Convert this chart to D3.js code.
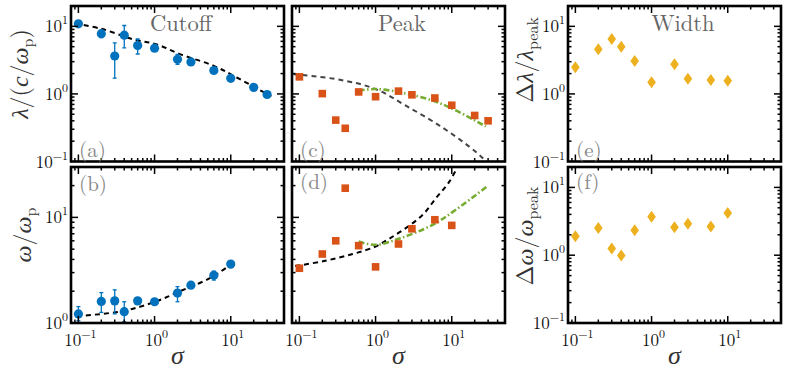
<!DOCTYPE html>
<html>
<head>
<meta charset="utf-8">
<script src="https://cdn.jsdelivr.net/npm/d3@7"></script>
</head>
<body style="margin:0;background:#fff">
<div id="chart"></div>
<script>
// sigma values used by the simulations
const sigmaAll = [0.1, 0.2, 0.3, 0.4, 0.6, 1, 2, 3, 6, 10, 20, 30];
const sigmaTen = [0.1, 0.2, 0.3, 0.4, 0.6, 1, 2, 3, 6, 10];

// (a) cutoff wavelength, with error bars (null = bar hidden by marker)
const cutoffLambda   = [10.9, 7.8, 3.64, 7.4, 5.2, 4.76, 3.25, 2.97, 2.22, 1.7, 1.25, 0.98];
const cutoffLambdaLo = [null, 6.8, 1.71, 4.8, 3.9, null, 2.75, null, null, null, null, null];
const cutoffLambdaHi = [null, 8.6, 5.7, 10.3, 6.5, null, 3.85, null, null, null, null, null];
const fitCutoffLambda = [[0.09, 11], [0.2, 9.2], [0.53, 6.4], [1.07, 5.4], [2.2, 3.85], [6, 2.6], [12, 1.75], [34, 0.92]];

// (b) cutoff frequency
const cutoffOmega   = [1.22, 1.6, 1.62, 1.28, 1.62, 1.59, 1.92, 2.28, 2.83, 3.61];
const cutoffOmegaLo = [1.05, 1.26, 1.22, 1.03, null, null, 1.59, null, 2.55, 3.34];
const cutoffOmegaHi = [1.43, 1.94, 2.06, 1.59, null, null, 2.21, null, 3.1, 3.85];
const fitCutoffOmega = [[0.096, 1.16], [0.39, 1.3], [1.02, 1.59], [2.2, 2.01], [5.5, 2.69], [10.5, 3.67]];

// (c) peak wavelength, (d) peak frequency
const peakLambda = [1.79, 1.01, 0.41, 0.31, 1.07, 0.91, 1.1, 0.97, 0.87, 0.68, 0.48, 0.40];
const fitPeakLambda = [[0.084, 1.96], [0.34, 1.62], [1, 1.18], [2.5, 0.67], [6.9, 0.34], [17, 0.166], [26, 0.11], [32, 0.085]];
const fitPeakLambdaGreen = [[0.6, 1.12], [1, 1.18], [2.06, 1.06], [5.6, 0.8], [11.3, 0.57], [28, 0.33]];
const peakOmega = [3.3, 4.5, 6.0, 18.9, 5.4, 3.4, 5.6, 7.8, 9.5, 8.4];
const fitPeakOmega = [[0.088, 3.46], [0.21, 3.86], [0.5, 4.5], [1, 5.3], [1.52, 6.3], [2.52, 7.95], [4.16, 10.6], [6.2, 15.2], [9.3, 21.8], [13, 34]];
const fitPeakOmegaGreen = [[0.6, 5.9], [1, 5.5], [2.06, 6.3], [5.6, 8.5], [11.3, 11.8], [29, 19.6]];

// (e), (f) spectral widths
const widthLambda = [2.48, 4.57, 6.5, 5.0, 3.07, 1.49, 2.74, 1.67, 1.61, 1.57];
const widthOmega  = [1.91, 2.52, 1.26, 0.99, 2.33, 3.7, 2.58, 2.92, 2.64, 4.2];

const xDomain = [0.08, 50];
const BLUE = '#0072BD', ORANGE = '#D95319', YELLOW = '#EDB120', GREEN = '#77AC30';
const ROMAN = '"Latin Modern Roman", "Liberation Serif", serif';
const GREEK = '"Liberation Serif", serif';

const width = 789, height = 370;
const colLeft = [71, 292, 568], panelW = 213;
const rowTop = [6, 167], panelH = [155.5, 156];

const svg = d3.select('#chart').append('svg')
  .attr('width', width).attr('height', height);

// every text gets its font inline
function txt(sel, size, fill) {
  return sel.append('text').style('font-family', ROMAN).attr('font-size', size).attr('fill', fill);
}

function panel(col, row, yDomain, opts) {
  const x0 = colLeft[col], y0 = rowTop[row], H = panelH[row];
  const x = d3.scaleLog().domain(xDomain).range([0, panelW]);
  const y = d3.scaleLog().domain(yDomain).range([H, 0]);
  const g = svg.append('g').attr('transform', `translate(${x0},${y0})`);
  const id = 'clip' + col + row;
  g.append('clipPath').attr('id', id).append('rect').attr('width', panelW).attr('height', H);
  const plot = g.append('g').attr('clip-path', `url(#${id})`);

  // minor + major ticks on all four sides, pointing inward
  const isMajor = v => Math.abs(Math.log10(v) - Math.round(Math.log10(v))) < 1e-6;
  x.ticks().filter(v => v > xDomain[0] && v < xDomain[1]).forEach(v => {
    const L = isMajor(v) ? 7 : 3.5;
    g.append('line').attr('x1', x(v)).attr('x2', x(v)).attr('y1', H).attr('y2', H - L)
      .attr('stroke', '#000').attr('stroke-width', 1.5);
    g.append('line').attr('x1', x(v)).attr('x2', x(v)).attr('y1', 0).attr('y2', L)
      .attr('stroke', '#000').attr('stroke-width', 1.5);
  });
  y.ticks().filter(v => v > yDomain[0] && v < yDomain[1]).forEach(v => {
    const L = isMajor(v) ? 7 : 3.5;
    g.append('line').attr('x1', 0).attr('x2', L).attr('y1', y(v)).attr('y2', y(v))
      .attr('stroke', '#000').attr('stroke-width', 1.5);
    g.append('line').attr('x1', panelW).attr('x2', panelW - L).attr('y1', y(v)).attr('y2', y(v))
      .attr('stroke', '#000').attr('stroke-width', 1.5);
  });

  g.append('rect').attr('width', panelW).attr('height', H)
    .attr('fill', 'none').attr('stroke', '#000').attr('stroke-width', 2.6);

  // tick labels
  if (opts.yLabels) {
    y.ticks().filter(isMajor).forEach(v => {
      const t = txt(g, 17, '#111').attr('x', -3).attr('y', y(v) + 6).attr('text-anchor', 'end');
      expLabel(t, Math.round(Math.log10(v)));
    });
  }
  if (opts.xLabels) {
    x.ticks().filter(isMajor).forEach(v => {
      const t = txt(g, 17, '#111').attr('x', x(v) + 2).attr('y', H + 23).attr('text-anchor', 'middle');
      expLabel(t, Math.round(Math.log10(v)));
    });
    g.append('text').style('font-family', GREEK).attr('font-size', 26).attr('fill', '#333')
      .attr('font-style', 'italic').attr('x', panelW / 2).attr('y', H + 41)
      .attr('text-anchor', 'middle').text('σ');
  }
  if (opts.title) {
    txt(g, 22.5, '#666').attr('x', opts.titleX).attr('y', 25).attr('text-anchor', 'middle').text(opts.title);
  }
  txt(g, 21, '#888').attr('x', 8).attr('y', opts.letterY).text(opts.letter);

  return { x, y, plot };
}

function expLabel(t, e) {
  t.append('tspan').text('10');
  t.append('tspan').attr('dy', -8).attr('font-size', 12).text(e < 0 ? '−' + (-e) : String(e));
}

function curve(p, pts, color, dash, sw) {
  const line = d3.line().x(d => p.x(d[0])).y(d => p.y(d[1])).curve(d3.curveCatmullRom);
  p.plot.append('path').datum(pts).attr('d', line)
    .attr('fill', 'none').attr('stroke', color).attr('stroke-width', sw)
    .attr('stroke-dasharray', dash);
}

function circles(p, xs, ys, lo, hi) {
  xs.forEach((s, i) => {
    if (lo[i] != null) {
      p.plot.append('line').attr('x1', p.x(s)).attr('x2', p.x(s))
        .attr('y1', p.y(lo[i])).attr('y2', p.y(hi[i])).attr('stroke', BLUE).attr('stroke-width', 1.3);
      [lo[i], hi[i]].forEach(v => p.plot.append('line')
        .attr('x1', p.x(s) - 2).attr('x2', p.x(s) + 2).attr('y1', p.y(v)).attr('y2', p.y(v))
        .attr('stroke', BLUE).attr('stroke-width', 1.3));
    }
    p.plot.append('circle').attr('cx', p.x(s)).attr('cy', p.y(ys[i])).attr('r', 4.6).attr('fill', BLUE);
  });
}

function squares(p, xs, ys) {
  xs.forEach((s, i) => {
    p.plot.append('rect').attr('x', p.x(s) - 3.8).attr('y', p.y(ys[i]) - 3.8)
      .attr('width', 7.6).attr('height', 7.6).attr('fill', ORANGE);
  });
}

function diamonds(p, xs, ys) {
  xs.forEach((s, i) => {
    p.plot.append('path')
      .attr('transform', `translate(${p.x(s)},${p.y(ys[i])})`)
      .attr('d', 'M0,-6L4.3,0L0,6L-4.3,0Z').attr('fill', YELLOW);
  });
}

// (a)
const pa = panel(0, 0, [0.1, 20], { yLabels: true, title: 'Cutoff', titleX: 110, letter: '(a)', letterY: 151 });
curve(pa, fitCutoffLambda, '#000', '5,4', 2);
circles(pa, sigmaAll, cutoffLambda, cutoffLambdaLo, cutoffLambdaHi);

// (b)
const pb = panel(0, 1, [1, 30], { yLabels: true, xLabels: true, letter: '(b)', letterY: 24 });
curve(pb, fitCutoffOmega, '#000', '5,4', 2);
circles(pb, sigmaTen, cutoffOmega, cutoffOmegaLo, cutoffOmegaHi);

// (c)
const pc = panel(1, 0, [0.1, 20], { title: 'Peak', titleX: 110, letter: '(c)', letterY: 151 });
curve(pc, fitPeakLambda, '#444', '5,4', 2);
curve(pc, fitPeakLambdaGreen, GREEN, '6,2.5,1.5,2.5', 2.6);
squares(pc, sigmaAll, peakLambda);

// (d)
const pd = panel(1, 1, [1, 30], { xLabels: true, letter: '(d)', letterY: 22 });
curve(pd, fitPeakOmega, '#000', '5,4', 2);
curve(pd, fitPeakOmegaGreen, GREEN, '6,2.5,1.5,2.5', 2.6);
squares(pd, sigmaTen, peakOmega);

// (e)
const pe = panel(2, 0, [0.1, 20], { yLabels: true, title: 'Width', titleX: 115, letter: '(e)', letterY: 151 });
diamonds(pe, sigmaTen, widthLambda);

// (f)
const pf = panel(2, 1, [0.1, 20], { yLabels: true, xLabels: true, letter: '(f)', letterY: 22 });
diamonds(pf, sigmaTen, widthOmega);

// axis titles (rotated); parts: [text, greek/italic, 1 = subscript, -1 = back up]
function yTitle(cx, cy, parts) {
  const t = txt(svg, 24, '#333').attr('transform', `translate(${cx},${cy}) rotate(-90)`)
    .attr('text-anchor', 'middle');
  parts.forEach(([s, it, sub]) => {
    const ts = t.append('tspan').text(s);
    if (it) ts.style('font-family', GREEK).attr('font-style', 'italic');
    if (sub === 1) ts.attr('dy', 5).attr('font-size', 16);
    if (sub === -1) ts.attr('dy', -5);
  });
}
yTitle(28, 74, [['λ', true], ['/(', false], ['c', true], ['/', false], ['ω', true], ['p', false, 1], [')', false, -1]]);
yTitle(31, 235, [['ω', true], ['/', false], ['ω', true], ['p', false, 1]]);
yTitle(533, 60, [['Δ', false], ['λ', true], ['/', false], ['λ', true], ['peak', false, 1]]);
yTitle(533, 236, [['Δ', false], ['ω', true], ['/', false], ['ω', true], ['peak', false, 1]]);
</script>
</body>
</html>
